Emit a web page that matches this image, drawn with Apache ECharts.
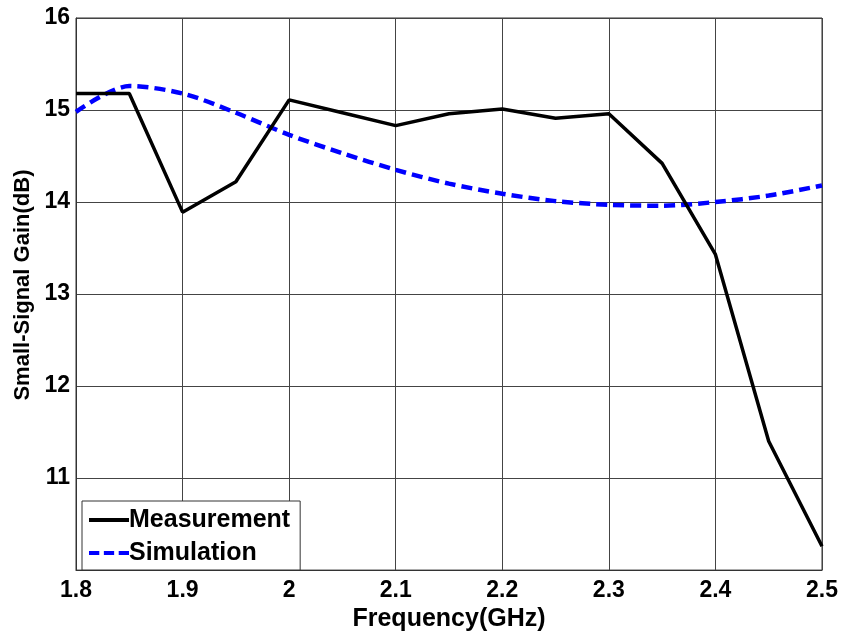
<!DOCTYPE html>
<html>
<head>
<meta charset="utf-8">
<script src="https://cdn.jsdelivr.net/npm/echarts@6/dist/echarts.min.js"></script>
<style>
  html, body { margin: 0; padding: 0; background: #fff; }
  #chart { width: 844px; height: 637px; }
</style>
</head>
<body>
<div id="chart"></div>
<script>
// Frequency sweep (GHz)
const frequency = [1.8, 1.85, 1.9, 1.95, 2.0, 2.05, 2.1, 2.15, 2.2, 2.25, 2.3, 2.35, 2.4, 2.45, 2.5];
// Measured small-signal gain (dB)
const measurement = [15.18, 15.18, 13.89, 14.22, 15.11, 14.97, 14.83, 14.96, 15.01, 14.91, 14.96, 14.42, 13.43, 11.40, 10.26];
// Simulated small-signal gain (dB)
const simulation = [14.98, 15.26, 15.18, 14.97, 14.73, 14.53, 14.35, 14.20, 14.09, 14.01, 13.97, 13.96, 14.00, 14.07, 14.18];

const seriesNames = ['Measurement', 'Simulation'];
const FONT = 'Arial, "Liberation Sans", sans-serif';

// Legend glyphs: a solid bar and a three-dash bar
const solidIcon = 'path://M0,0h40v4h-40z';
const dashedIcon = 'path://M4,0h9v4h-9z M17,0h9v4h-9z M30,0h9v4h-9z';

const toPairs = (xs, ys) => xs.map((x, i) => [x, ys[i]]);

const chart = echarts.init(document.getElementById('chart'), null, { renderer: 'canvas' });

chart.setOption({
  animation: false,
  backgroundColor: '#ffffff',
  grid: { left: 76, right: 22, top: 18, bottom: 62, show: true, borderColor: '#333', borderWidth: 1 },
  xAxis: {
    type: 'value',
    min: 1.8, max: 2.5, interval: 0.1,
    name: 'Frequency(GHz)',
    nameLocation: 'middle',
    nameGap: 23,
    nameTextStyle: { fontFamily: FONT, fontWeight: 'bold', fontSize: 25, color: '#000' },
    axisLine: { show: true, lineStyle: { color: '#333', width: 1 } },
    axisTick: { show: false },
    axisLabel: {
      margin: 9,
      fontFamily: FONT, fontWeight: 'bold', fontSize: 23, color: '#000',
      formatter: v => String(Math.round(v * 10) / 10)
    },
    splitLine: { show: true, lineStyle: { color: '#444', width: 1 } }
  },
  yAxis: {
    type: 'value',
    min: 10, max: 16, interval: 1,
    name: 'Small-Signal Gain(dB)',
    nameLocation: 'middle',
    nameGap: 36,
    nameTextStyle: { fontFamily: FONT, fontWeight: 'bold', fontSize: 22, color: '#000', padding: [0, 0, 0, 18] },
    axisLine: { show: true, lineStyle: { color: '#333', width: 1 } },
    axisTick: { show: false },
    axisLabel: {
      margin: 6,
      fontFamily: FONT, fontWeight: 'bold', fontSize: 23, color: '#000',
      formatter: v => (v === 10 ? '' : String(v))
    },
    splitLine: { show: true, lineStyle: { color: '#444', width: 1 } }
  },
  legend: {
    data: [
      { name: seriesNames[0], icon: solidIcon },
      { name: seriesNames[1], icon: dashedIcon }
    ],
    orient: 'vertical',
    left: 82, top: 501,
    backgroundColor: '#fff',
    borderColor: '#333',
    borderWidth: 1,
    padding: [5, 10, 3, 7],
    itemGap: 5,
    itemWidth: 40,
    itemHeight: 4,
    symbolKeepAspect: false,
    textStyle: { fontFamily: FONT, fontWeight: 'bold', fontSize: 25, color: '#000', lineHeight: 28, padding: [0, 0, 0, -5] }
  },
  series: [
    {
      name: seriesNames[0],
      type: 'line',
      data: toPairs(frequency, measurement),
      symbol: 'none',
      lineStyle: { color: '#000', width: 3.5 },
      itemStyle: { color: '#000' },
      z: 3
    },
    {
      name: seriesNames[1],
      type: 'line',
      data: toPairs(frequency, simulation),
      symbol: 'none',
      smooth: 0.3,
      lineStyle: { color: '#0000ff', width: 4.5, type: [11, 6] },
      itemStyle: { color: '#0000ff' },
      z: 2
    }
  ]
});
</script>
</body>
</html>
